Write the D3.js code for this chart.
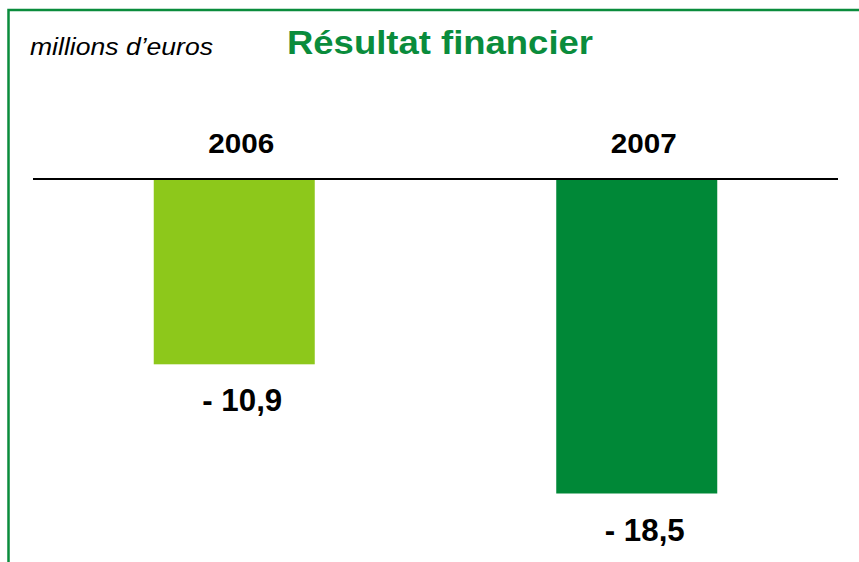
<!DOCTYPE html>
<html>
<head>
<meta charset="utf-8">
<script src="https://cdn.jsdelivr.net/npm/d3@7"></script>
<style>
  body { margin: 0; background: #fff; }
  svg { display: block; }
</style>
</head>
<body>
<div id="chart"></div>
<script>
var years   = ['2006', '2007'];
var values  = [-10.9, -18.5];
var labels  = ['- 10,9', '- 18,5'];
var colors  = ['#8dc81b', '#008837'];

var chart_width  = 859;
var chart_height = 562;
var base_y       = 179;

var svg = d3.select('#chart')
	.append('svg')
	.attr('width', chart_width)
	.attr('height', chart_height);

// frame (open to the right and bottom)
svg.append('rect')
	.attr('x', 8.5)
	.attr('y', 10)
	.attr('width', 900)
	.attr('height', 600)
	.attr('fill', 'none')
	.attr('stroke', '#0a8c3c')
	.attr('stroke-width', 2.5);

// scales
var x_scale = d3.scaleBand()
	.domain(years)
	.range([33, 838])
	.paddingInner(0.6)
	.paddingOuter(0.3);

// 17 px per million, values below zero go down
var y_scale = d3.scaleLinear()
	.domain([0, -20])
	.range([base_y, base_y + 340]);

// bars
svg.selectAll('rect.bar')
	.data(values)
	.enter()
	.append('rect')
	.attr('class', 'bar')
	.attr('x', function(d, i){ return x_scale(years[i]); })
	.attr('y', y_scale(0))
	.attr('width', x_scale.bandwidth())
	.attr('height', function(d){ return y_scale(d) - y_scale(0); })
	.attr('fill', function(d, i){ return colors[i]; });

// baseline
svg.append('line')
	.attr('x1', 33)
	.attr('x2', 838)
	.attr('y1', y_scale(0))
	.attr('y2', y_scale(0))
	.attr('stroke', '#000')
	.attr('stroke-width', 2);

// year labels
svg.selectAll('text.year')
	.data(years)
	.enter()
	.append('text')
	.attr('class', 'year')
	.text(function(d){ return d; })
	.attr('x', function(d){ return x_scale(d) + x_scale.bandwidth() / 2 + 7; })
	.attr('y', 153)
	.attr('text-anchor', 'middle')
	.attr('font-family', 'Liberation Sans, Arial, sans-serif')
	.attr('font-weight', 'bold')
	.attr('font-size', 28)
	.attr('textLength', 66)
	.attr('lengthAdjust', 'spacingAndGlyphs')
	.attr('fill', '#000');

// value labels
svg.selectAll('text.value')
	.data(values)
	.enter()
	.append('text')
	.attr('class', 'value')
	.text(function(d, i){ return labels[i]; })
	.attr('x', function(d, i){ return x_scale(years[i]) + x_scale.bandwidth() / 2 + 8; })
	.attr('y', function(d){ return y_scale(d) + 47; })
	.attr('text-anchor', 'middle')
	.attr('font-family', 'Liberation Sans, Arial, sans-serif')
	.attr('font-weight', 'bold')
	.attr('font-size', 31)
	.attr('textLength', 80)
	.attr('lengthAdjust', 'spacingAndGlyphs')
	.attr('fill', '#000');

// unit + title
svg.append('text')
	.text('millions d\u2019euros')
	.attr('x', 30)
	.attr('y', 55)
	.attr('font-family', 'Liberation Sans, Arial, sans-serif')
	.attr('font-style', 'italic')
	.attr('font-size', 23)
	.attr('textLength', 183)
	.attr('lengthAdjust', 'spacingAndGlyphs')
	.attr('fill', '#000');

svg.append('text')
	.text('Résultat financier')
	.attr('x', 287)
	.attr('y', 54)
	.attr('font-family', 'Liberation Sans, Arial, sans-serif')
	.attr('font-weight', 'bold')
	.attr('font-size', 34)
	.attr('textLength', 306)
	.attr('lengthAdjust', 'spacingAndGlyphs')
	.attr('fill', '#0a8c3c');
</script>
</body>
</html>
